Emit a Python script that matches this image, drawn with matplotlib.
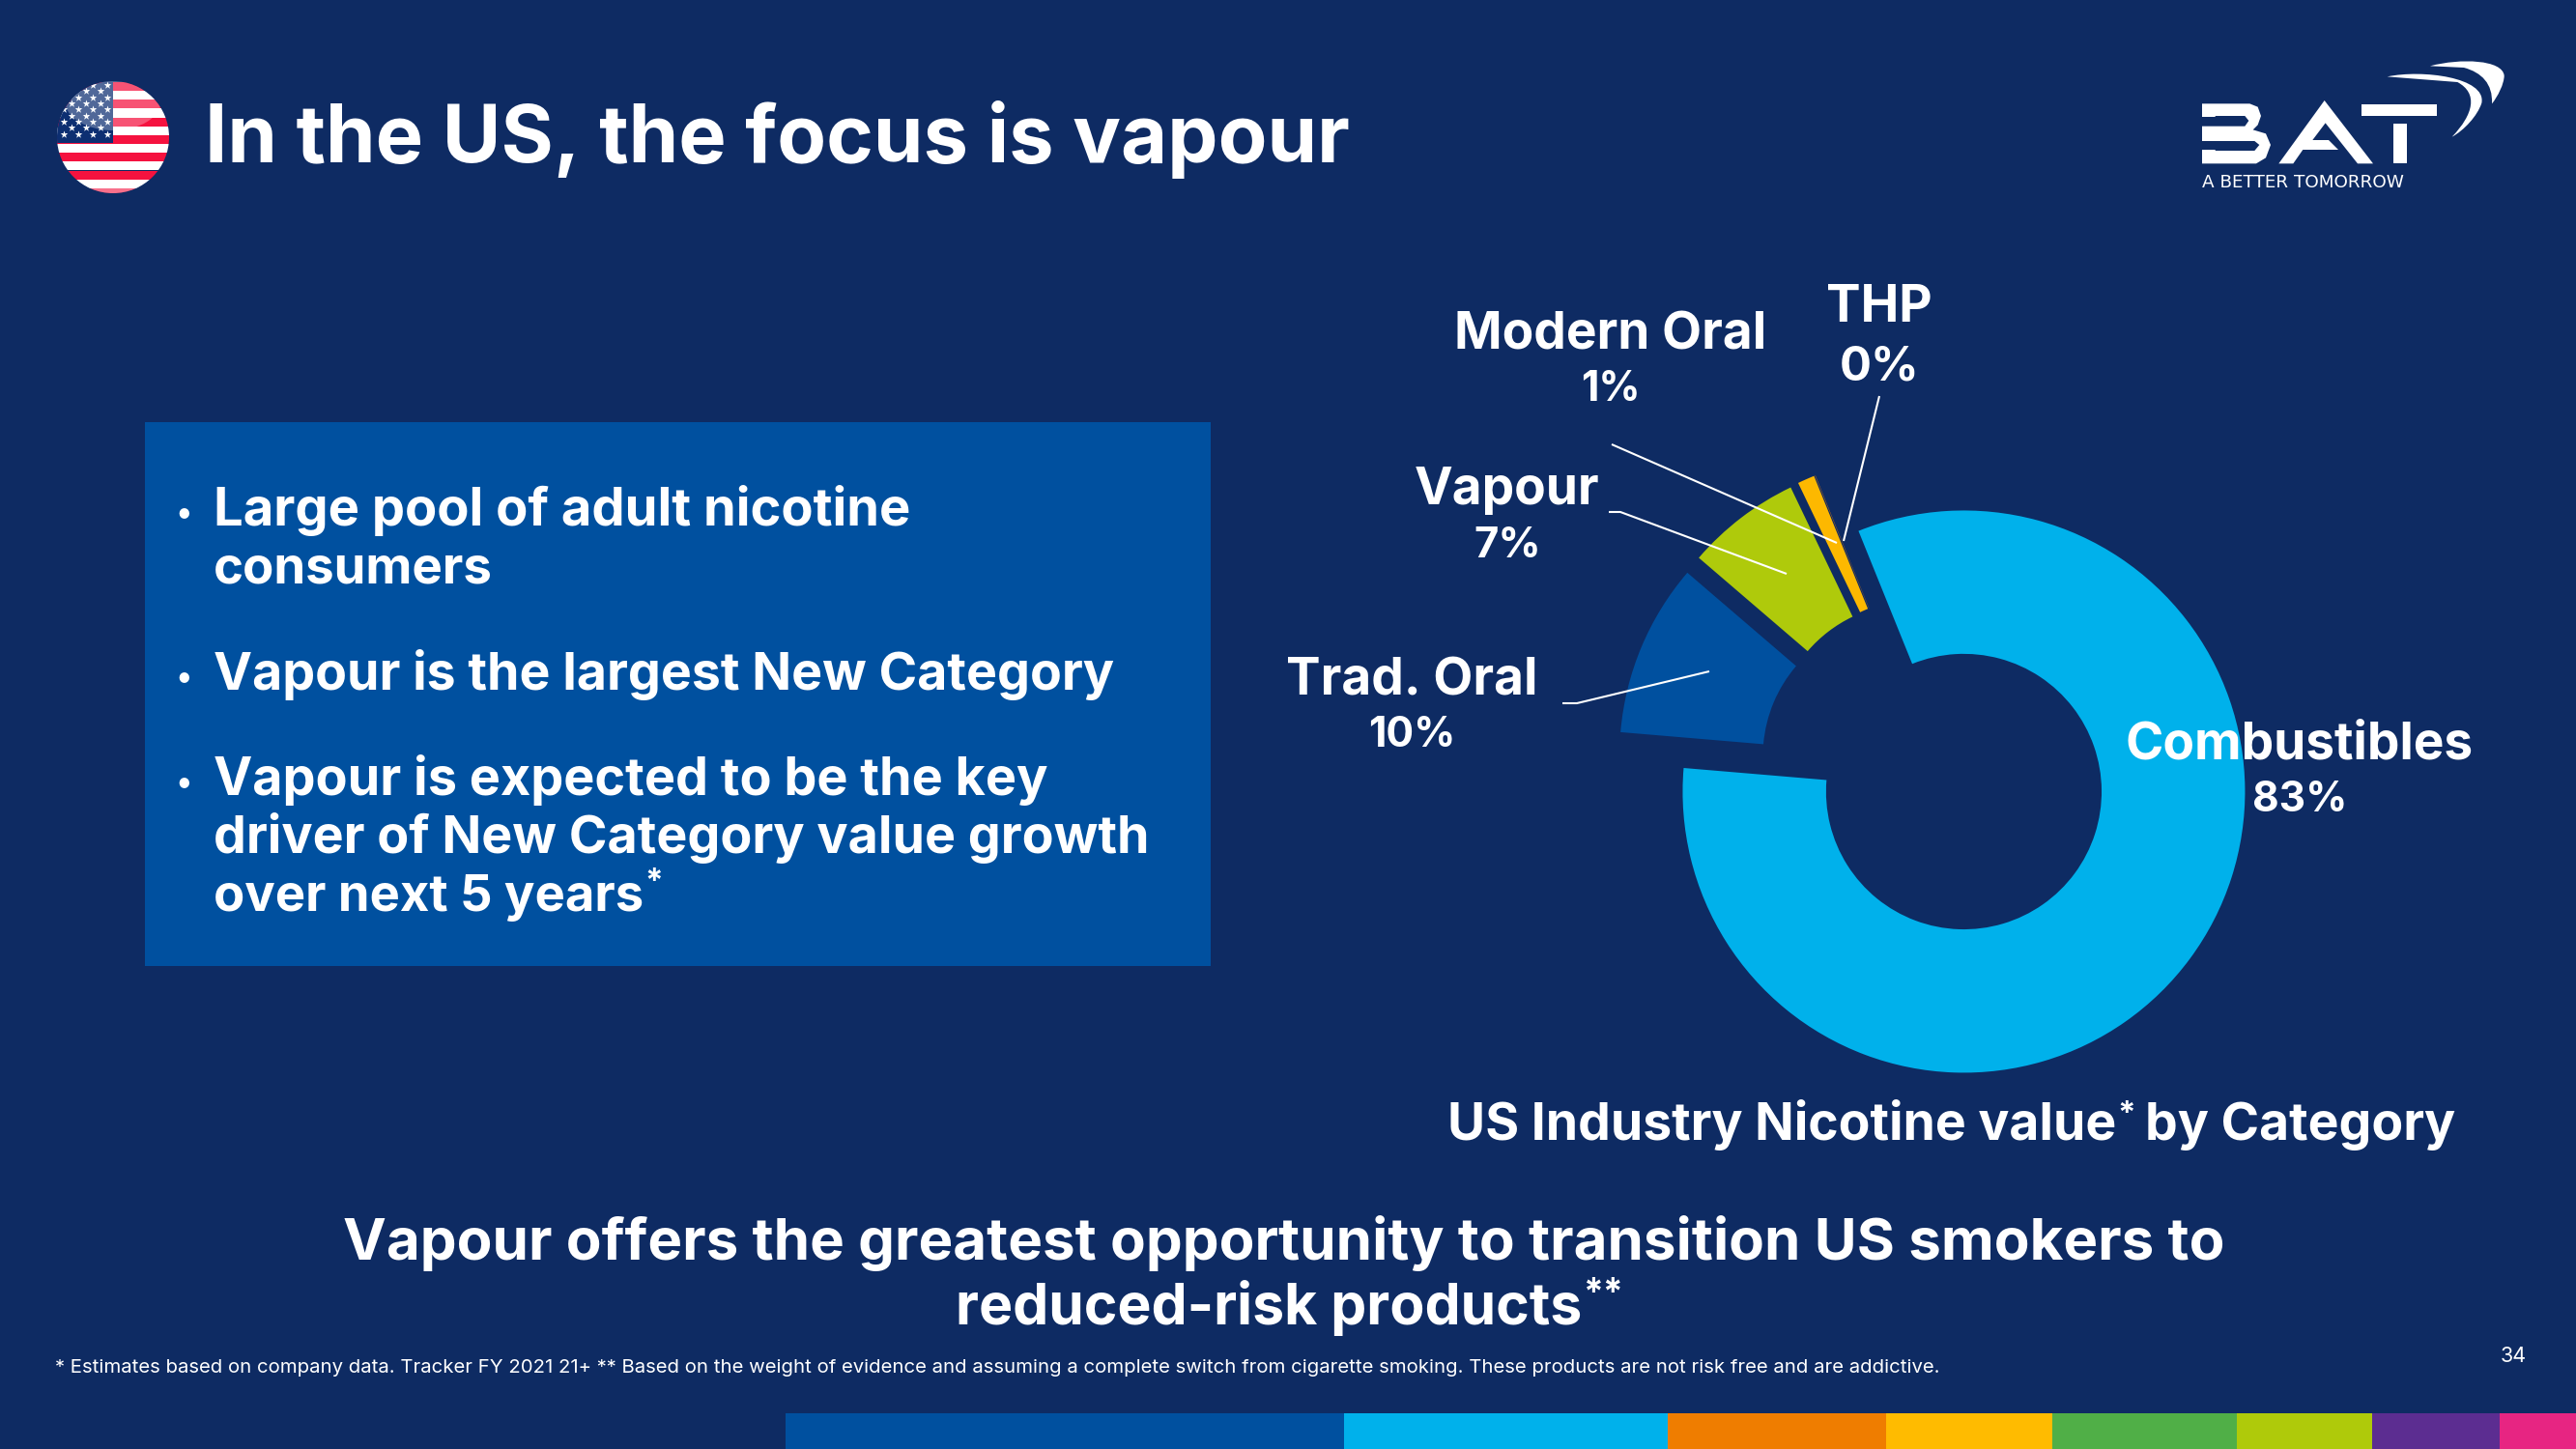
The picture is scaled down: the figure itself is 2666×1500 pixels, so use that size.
import matplotlib
matplotlib.use("Agg")
import matplotlib.pyplot as plt
from matplotlib.patches import Rectangle, Circle, Polygon, PathPatch, Ellipse
from matplotlib.path import Path

W, H = 2666, 1500
BG = "#0E2B63"
FONT = "Inter"

# ---- data ----
categories = ["Combustibles", "Trad. Oral", "Vapour", "Modern Oral", "THP"]
values = [82.45, 9.95, 6.6, 0.98, 0.02]
value_labels = ["83%", "10%", "7%", "1%", "0%"]
slice_colors = ["#00B1EB", "#00509F", "#AFCA0B", "#FDB800", "#EF7D00"]
band_colors = ["#00509F", "#00B1EB", "#EF7D00", "#FFBB00", "#50AF47", "#AFCA0A", "#5C2D91", "#E72582"]
band_edges = [813, 1391, 1726, 1952, 2124, 2315, 2455, 2587, 2666]

title = "In the US, the focus is vapour"
bullet_lines = ["Large pool of adult nicotine", "consumers", "Vapour is the largest New Category",
                "Vapour is expected to be the key", "driver of New Category value growth", "over next 5 years"]
bullet_widths = [722, 289, 932, 864, 969, 445]
bullet_base = [544, 604, 714, 823, 883, 943]
bullet_marks = [544, 714, 823]
conclusion = ["Vapour offers the greatest opportunity to transition US smokers to", "reduced-risk products"]
footnote = ("* Estimates based on company data. Tracker FY 2021 21+ ** Based on the weight of evidence and assuming "
            "a complete switch from cigarette smoking. These products are not risk free and are addictive.")

fig = plt.figure(figsize=(W / 100, H / 100), dpi=100, facecolor=BG)
ax = fig.add_axes([0, 0, 1, 1])
ax.set_xlim(0, W)
ax.set_ylim(H, 0)
ax.axis("off")
renderer = fig.canvas.get_renderer()


def width_of(s, size, weight):
    t = ax.text(0, 0, s, fontsize=size, fontweight=weight, family=FONT)
    w = t.get_window_extent(renderer).width
    t.remove()
    return w


def fit(s, target, weight="bold"):
    return 100 * target / width_of(s, 100, weight)


def put(x, y, s, size, weight="bold", ha="left", va="baseline", z=5):
    return ax.text(x, y, s, fontsize=size, fontweight=weight, family=FONT, color="white", ha=ha, va=va, zorder=z)


# ---- title ----
put(212, 168, title, fit(title, 1185))

# ---- flag ----
fx, fy, fr = 117, 142, 58
clip = Circle((fx, fy), fr, transform=ax.transData)
for i in range(13):
    y0 = 85 + i * 9.15
    r = Rectangle((fx - fr, y0), 2 * fr, 9.15, fc="#F5123F" if i % 2 == 0 else "white", ec="none", zorder=2)
    ax.add_patch(r)
    r.set_clip_path(clip)
c = Rectangle((fx - fr, 84), fr, 63.5, fc="#0D2F72", ec="none", zorder=3)
ax.add_patch(c)
c.set_clip_path(clip)
star_x, star_y = [], []
for row in range(9):
    yy = 88 + row * 6.35
    for col in range(6):
        xx = 66 + col * 15 + (7.5 if row % 2 else 0)
        if xx < 116:
            star_x.append(xx)
            star_y.append(yy)
st = ax.scatter(star_x, star_y, marker="*", s=34, c="white", linewidths=0, zorder=4)
st.set_clip_path(clip)
gl = Ellipse((fx, fy - 38), 100, 62, fc="white", alpha=0.28, ec="none", zorder=4)
ax.add_patch(gl)
gl.set_clip_path(clip)
gl2 = Ellipse((fx, fy + 58), 70, 22, fc="white", alpha=0.4, ec="none", zorder=4)
ax.add_patch(gl2)
gl2.set_clip_path(clip)


# ---- logo ----
def lp(zx, zy):
    return (2240 + zx / 3, 40 + zy / 3)


def poly(pts, col="white", z=3):
    ax.add_patch(Polygon([lp(*p) for p in pts], closed=True, fc=col, ec="none", zorder=z))


# B
poly([(117, 202), (265, 202), (290, 212), (300, 240), (290, 268), (275, 283), (315, 295), (330, 330), (315, 370),
      (285, 388), (117, 388), (117, 345), (158, 345), (158, 348), (280, 348), (295, 330), (280, 318), (117, 318),
      (117, 272), (250, 272), (262, 255), (250, 240), (158, 240), (158, 243), (117, 243)])
# A
poly([(497, 192), (648, 388), (600, 388), (500, 262), (460, 315), (510, 315), (540, 345), (430, 345),
      (400, 388), (355, 388)])
# T
poly([(612, 205), (847, 205), (847, 240), (612, 240)])
poly([(712, 265), (752, 265), (752, 388), (712, 388)])
# swoosh
for verts in (
    [(692, 118), (800, 95), (1000, 120), (985, 200), (972, 240), (930, 285), (893, 305),
     (960, 235), (975, 170), (910, 135), (850, 115), (692, 118)],
    [(825, 85), (920, 60), (1050, 65), (1055, 115), (1055, 140), (1035, 180), (1017, 202),
     (1020, 140), (985, 105), (930, 90), (880, 80), (825, 85)],
):
    codes = [Path.MOVETO] + [Path.CURVE4] * 9 + [Path.LINETO]
    v = [lp(*p) for p in verts]
    ax.add_patch(PathPatch(Path(v[:10] + [v[0]], codes[:10] + [Path.CLOSEPOLY]), fc="white", ec="none", zorder=3))
ax.text(2279, 194, "A BETTER TOMORROW", fontsize=13.2, family="DejaVu Sans", color="white", ha="left", va="baseline",
        zorder=5)

# ---- text box ----
ax.add_patch(Rectangle((150, 437), 1103, 563, fc="#00509F", ec="none", zorder=1))
for s, w, y in zip(bullet_lines, bullet_widths, bullet_base):
    put(221, y, s, fit(s, w))
bs = fit(bullet_lines[4], 969)
for y in bullet_marks:
    put(190, y - 2, "•", bs * 0.62, ha="center")
put(667, bullet_base[5] - 20, "*", bs * 0.62)

# ---- donut ----
R = 291
cx, cy = 2002, 797
pie_ax = fig.add_axes([(cx - 1.25 * R) / W, 1 - (cy + 1.25 * R) / H, 2.5 * R / W, 2.5 * R / H])
pie_ax.pie(values, colors=slice_colors, startangle=112, counterclock=False, explode=[0.13] * len(values),
           radius=1.0, wedgeprops={"width": 0.51, "linewidth": 0})
pie_ax.patch.set_alpha(0)
pie_ax.set_zorder(2)

# overlay for labels above the donut
ov = fig.add_axes([0, 0, 1, 1])
ov.set_xlim(0, W)
ov.set_ylim(H, 0)
ov.axis("off")
ov.patch.set_alpha(0)
ov.set_zorder(3)
ax.set_zorder(1)

leaders = [
    [(1617, 728), (1632, 728), (1769, 695)],
    [(1665, 530), (1677, 530), (1849, 594)],
    [(1668, 460), (1901, 562)],
    [(1945, 410), (1908, 560)],
]
for ln in leaders:
    ov.plot([p[0] for p in ln], [p[1] for p in ln], color="white", lw=1.5, solid_capstyle="butt")

ls = fit("Combustibles", 360)
label_pos = {
    "Combustibles": (2380, 786, 840, 0.80),
    "Trad. Oral": (1461, 719, 773, 0.80),
    "Vapour": (1560, 522, 577, 0.82),
    "Modern Oral": (1667, 361, 415, 0.80),
    "THP": (1945, 333, 393, 0.92),
}
for name, pct in zip(categories, value_labels):
    x, y1, y2, k = label_pos[name]
    ov.text(x, y1, name, fontsize=ls, fontweight="bold", family=FONT, color="white", ha="center", va="baseline")
    ov.text(x, y2, pct, fontsize=ls * k, fontweight="bold", family=FONT, color="white", ha="center", va="baseline")

# ---- chart caption ----
cs = fit("US Industry Nicotine value", 692)
put(1498, 1180, "US Industry Nicotine value", cs)
put(2191, 1163, "*", cs * 0.62)
put(2220, 1180, "by Category", cs)

# ---- conclusion ----
ks = fit(conclusion[0], 1945)
put(1329, 1304, conclusion[0], ks, ha="center")
put(989, 1371, conclusion[1], fit(conclusion[1], 648))
put(1638, 1350, "**", ks * 0.62)

# ---- footer ----
put(57, 1421, footnote, fit(footnote, 1949, "normal"), weight="normal")
put(2601, 1410, "34", 15.5, weight="normal", ha="center")

# ---- colour band ----
for i, col in enumerate(band_colors):
    ax.add_patch(Rectangle((band_edges[i], 1463), band_edges[i + 1] - band_edges[i], 37, fc=col, ec="none", zorder=1))

fig.savefig("out.png", dpi=100, facecolor=BG)
